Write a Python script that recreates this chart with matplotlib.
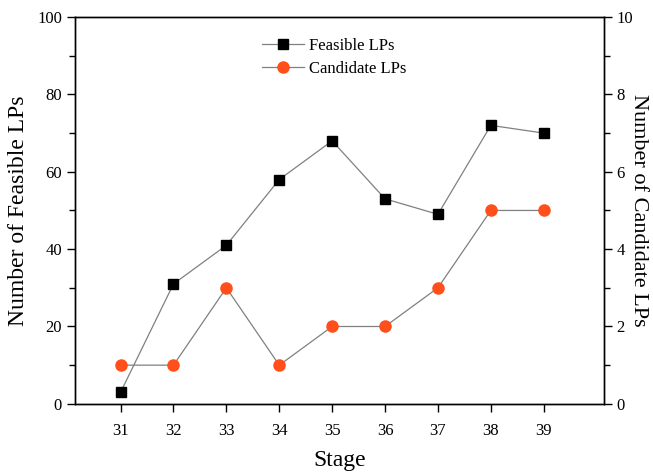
import numpy as np
import matplotlib.pyplot as plt
from matplotlib.ticker import MultipleLocator

plt.rcParams['font.family'] = ['Liberation Serif', 'DejaVu Serif']

# donnees
stage = [31, 32, 33, 34, 35, 36, 37, 38, 39]
feasible = [3, 31, 41, 58, 68, 53, 49, 72, 70]
candidate = [1, 1, 3, 1, 2, 2, 3, 5, 5]

fig = plt.figure(figsize=(6.53, 4.74), dpi=100)
ax = fig.add_axes([0.115, 0.148, 0.81, 0.816])
ax2 = ax.twinx()

l1, = ax.plot(stage, feasible, color="#808080", lw=0.9, marker="s", ms=7,
              mfc="black", mec="black", label="Feasible LPs")
l2, = ax2.plot(stage, candidate, color="#808080", lw=0.9, marker="o", ms=8,
               mfc="#ff4f1a", mec="#ff4f1a", label="Candidate LPs")

ax.set_xlim(30.14, 40.14)
ax.set_ylim(0, 100)
ax2.set_ylim(0, 10)
ax.set_xticks(stage)
ax.yaxis.set_major_locator(MultipleLocator(20))
ax.yaxis.set_minor_locator(MultipleLocator(10))
ax2.yaxis.set_major_locator(MultipleLocator(2))
ax2.yaxis.set_minor_locator(MultipleLocator(1))

for a in (ax, ax2):
    a.tick_params(which="both", direction="out", labelsize=12, width=1.0)
    a.tick_params(which="major", length=6)
    a.tick_params(which="minor", length=4)
    for s in a.spines.values():
        s.set_linewidth(1.0)
ax.tick_params(axis="x", pad=8)
ax2.tick_params(axis="y", pad=3)

ax.set_xlabel("Stage", fontsize=17, labelpad=8)
ax.set_ylabel("Number of Feasible LPs", fontsize=17, labelpad=6)
ax2.set_ylabel("Number of Candidate LPs", fontsize=16, rotation=270,
               ha="center", va="center")
ax2.yaxis.set_label_coords(1.066, 0.5)

ax.legend(handles=[l1, l2], loc="upper center", bbox_to_anchor=(0.49, 0.985),
          frameon=False, fontsize=12, handlelength=2.5, handletextpad=0.3,
          labelspacing=0.4)

fig.savefig("out.png")
